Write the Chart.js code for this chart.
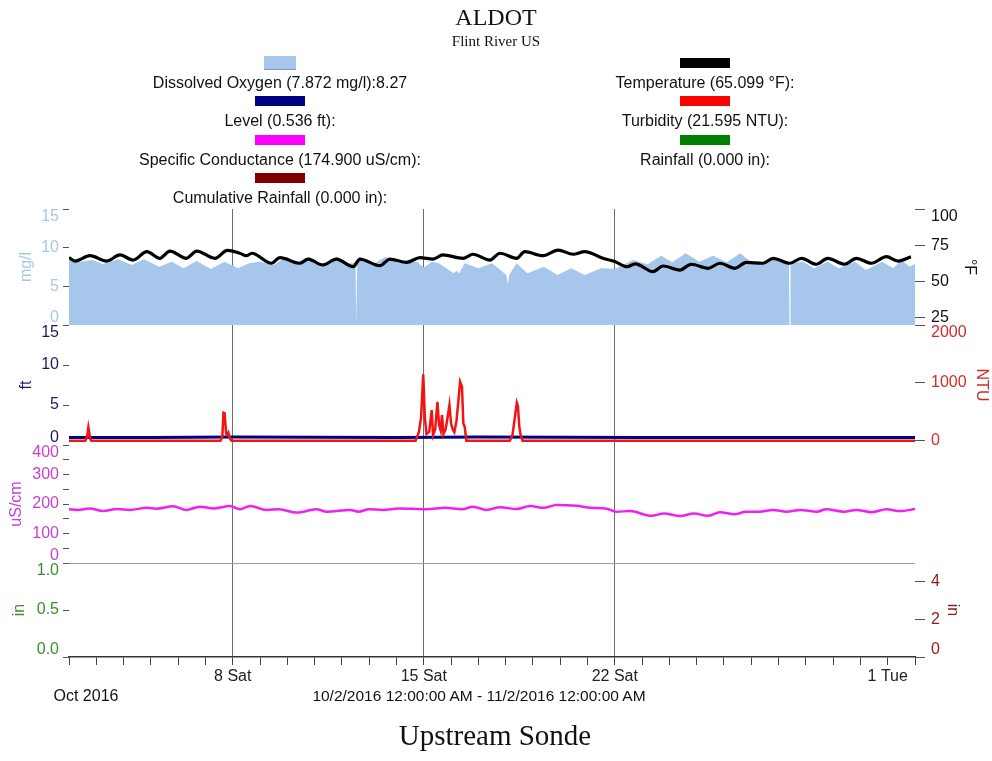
<!DOCTYPE html>
<html>
<head>
<meta charset="utf-8">
<script src="https://cdn.jsdelivr.net/npm/chart.js@4.4.0/dist/chart.umd.min.js"></script>
<style>
html,body{margin:0;padding:0;background:#fff;}
#wrap{position:relative;width:992px;height:761px;overflow:hidden;font-family:Arial,"Liberation Sans",sans-serif;}
#c{position:absolute;left:0;top:0;}
.t{position:absolute;white-space:nowrap;transform:translate(-50%,-50%);line-height:1;color:#111;}
.serif{font-family:"Times New Roman","Liberation Serif",serif;}
.sw{position:absolute;transform:translateX(-50%);}
</style>
</head>
<body>
<div id="wrap">
<canvas id="c" width="992" height="761"></canvas>
<div class="t serif" style="left:496px;top:17px;font-size:24px;">ALDOT</div>
<div class="t serif" style="left:496px;top:41px;font-size:15px;">Flint River US</div>
<div id="legend"></div>
<div class="t" style="left:86px;top:696px;font-size:16px;">Oct 2016</div>
<div class="t" style="left:479px;top:696px;font-size:15.5px;">10/2/2016 12:00:00 AM - 11/2/2016 12:00:00 AM</div>
<div class="t serif" style="left:495px;top:735px;font-size:29px;">Upstream Sonde</div>
</div>
<script>
// ---------- DATA (time in days since 10/2/2016 00:00) ----------
const X_TICK_DAYS = [6, 13, 20, 30];
const X_TICK_LABELS = ['8 Sat', '15 Sat', '22 Sat', '1 Tue'];
const WEEK_GRID_DAYS = [6, 13, 20];

const DO_DAYS = [0.0,0.35,0.85,1.25,1.8,2.3,2.75,3.3,3.77,4.2,4.68,5.2,5.7,6.2,6.6,7.0,7.5,7.9,8.4,8.8,9.3,9.8,10.2,10.5,10.52,10.54,10.56,10.65,11.1,11.6,12.1,12.75,13.0,13.3,13.55,14.1,14.2,14.3,14.5,15.0,15.5,16.03,16.08,16.13,16.4,16.8,17.4,17.9,18.4,18.9,19.5,20.0,20.3,20.67,21.2,21.7,22.1,22.6,23.1,23.6,24.1,24.6,25.0,25.5,25.9,26.38,26.4,26.42,26.44,26.9,27.3,27.8,28.2,28.8,29.2,29.8,30.2,30.5,30.8,31.0];
const DO_MGL = [8.4,8.15,8.4,7.9,8.5,7.76,8.5,7.54,8.19,7.33,8.28,7.24,8.19,7.33,8.0,8.19,7.76,8.66,7.76,8.83,7.63,8.83,7.98,7.98,0,0,8.15,8.8,7.76,8.83,7.98,8.19,7.44,8.19,7.98,6.69,7.0,6.69,7.98,7.33,7.98,6.47,5.17,6.47,7.98,6.69,7.54,6.47,7.33,6.47,7.33,7.24,7.76,8.4,7.85,8.96,8.11,9.27,8.19,8.96,8.11,9.27,8.11,8.19,8.66,7.98,0,0,7.98,8.19,7.33,8.19,7.33,8.19,7.11,8.19,7.33,8.4,7.54,7.9];

const TEMP_DAYS = [0.0,0.22,0.77,1.38,1.87,2.35,2.85,3.33,3.7,4.3,4.68,5.35,5.8,6.26,6.5,6.7,7.42,7.73,8.46,8.76,9.3,9.8,10.41,10.66,11.39,11.76,12.37,12.86,13.34,13.7,14.44,14.8,15.42,15.79,16.4,16.7,17.37,17.92,18.47,18.9,19.57,20.0,20.45,20.75,21.4,21.77,22.38,22.8,23.42,23.85,24.4,24.82,25.43,25.8,26.41,26.84,27.39,27.8,28.42,28.85,29.4,29.95,30.38,30.85];
const TEMP_F = [66.4,64.1,67.8,64.1,68.3,64.8,70.6,66.0,71.0,66.0,71.0,66.0,71.5,69.5,67.8,69.5,62.6,66.4,62.6,65.5,61.4,65.5,60.2,65.5,60.9,65.5,63.2,66.4,65.5,68.3,66.0,68.8,64.8,69.5,66.0,70.6,67.8,71.7,68.8,70.6,66.0,63.8,60.2,62.2,56.8,60.7,57.9,61.9,59.1,62.6,59.1,63.2,62.6,66.0,62.6,66.0,61.9,66.0,61.9,66.0,62.6,67.1,64.1,67.1];

const LEVEL_DAYS = [0, 3, 6, 9, 12, 15, 18, 21, 24, 27, 31];
const LEVEL_FT = [0.95, 0.95, 1.0, 0.97, 0.95, 1.0, 0.97, 0.95, 0.95, 0.95, 0.95];

const TURB_DAYS = [0,0.6,0.66,0.71,0.74,0.78,0.82,3,5.55,5.62,5.66,5.7,5.76,5.8,5.84,5.9,5.96,9,12.7,12.82,12.9,12.98,13.04,13.1,13.2,13.29,13.34,13.42,13.5,13.56,13.62,13.67,13.72,13.8,13.87,13.94,14.0,14.06,14.12,14.2,14.27,14.33,14.4,14.45,14.5,14.56,15.5,16.15,16.25,16.35,16.41,16.45,16.5,16.55,16.62,20,25,31];
const TURB_NTU = [5,5,60,235,150,30,5,5,5,80,486,480,120,100,140,40,5,5,5,150,400,1149,400,120,160,533,100,200,676,280,180,447,120,200,400,619,300,200,150,350,700,1021,935,300,247,5,5,5,100,450,659,600,250,100,5,5,5,5];

const COND_DAYS = [0,0.3,0.77,1.25,1.75,2.23,2.85,3.2,3.82,4.3,4.8,5.3,5.9,6.26,6.63,7.24,7.7,8.34,9.07,9.44,10.3,10.6,11.0,11.5,12.1,13.1,13.8,14.4,14.8,15.3,15.8,16.4,16.9,17.4,17.86,18.6,19.1,19.7,20.05,20.55,21.34,21.8,22.4,22.9,23.4,23.85,24.4,24.8,25.3,25.8,26.3,26.8,27.4,27.75,28.4,28.85,29.4,29.95,30.45,31];
const COND_USCM = [182,180,185,176,183,180,187,184,192,180,191,185,193,182,193,180,182,171,182,174,180,174,182,180,185,182,187,182,191,180,189,183,193,187,197,194,187,184,174,176,160,168,159,168,160,172,165,174,174,180,174,180,174,182,174,180,172,182,176,183];

const RAIN_DAYS = [0,1,2,3,4,5,6,7,8,9,10,11,12,13,14,15,16,17,18,19,20,21,22,23,24,25,26,27,28,29,30,31];
const RAIN_IN = [0,0,0,0,0,0,0,0,0,0,0,0,0,0,0,0,0,0,0,0,0,0,0,0,0,0,0,0,0,0,0,0];
const CUM_RAIN_IN = [0,0,0,0,0,0,0,0,0,0,0,0,0,0,0,0,0,0,0,0,0,0,0,0,0,0,0,0,0,0,0,0];

const DO_TICKS = [0, 5, 10, 15];           const DO_TICK_LABELS = ['0','5','10','15'];
const TEMP_TICKS = [25, 50, 75, 100];      const TEMP_TICK_LABELS = ['25','50','75','100'];
const LEVEL_TICKS = [0, 5, 10, 15];        const LEVEL_TICK_LABELS = ['0','5','10','15'];
const TURB_TICKS = [0, 1000, 2000];        const TURB_TICK_LABELS = ['0','1000','2000'];
const COND_TICKS = [0,50,100,150,200,250,300,350,400];
const COND_TICK_LABELS = ['0','','100','','200','','300','','400'];
const RAIN_TICKS = [0, 0.5, 1];            const RAIN_TICK_LABELS = ['0.0','0.5','1.0'];
const CUM_TICKS = [0, 2, 4];               const CUM_TICK_LABELS = ['0','2','4'];

const LEGEND_LEFT = ['Dissolved Oxygen (7.872 mg/l):8.27','Level (0.536 ft):','Specific Conductance (174.900 uS/cm):','Cumulative Rainfall (0.000 in):'];
const LEGEND_RIGHT = ['Temperature (65.099 °F):','Turbidity (21.595 NTU):','Rainfall (0.000 in):'];

// ---------- STYLE ----------
const C_DO = '#a6c6eb', C_TEMP = '#000000', C_LEVEL = '#000080', C_TURB = '#f01414',
      C_COND = '#f020f0', C_RAIN = '#008000', C_CUM = '#800000';
const FONT = 'Arial, "Liberation Sans", sans-serif';

// ---------- LEGEND (HTML) ----------
(function(){
  const lg = document.getElementById('legend');
  const leftColors = [C_DO, C_LEVEL, '#ff00ff', C_CUM];
  const rightColors = [C_TEMP, '#ff0000', C_RAIN];
  function col(names, colors, cx, isLeft){
    names.forEach((n, i) => {
      const top = 57 + i * 38.3;
      const sw = document.createElement('div');
      sw.className = 'sw';
      const area = isLeft && i === 0;
      sw.style.cssText = `left:${cx}px;top:${area ? top - 1 : top + 1}px;width:${area ? 32 : 50}px;height:${area ? 13 : 10}px;background:${colors[i]};` + (area ? 'border-bottom:1px solid #7b9cc2;' : '');
      lg.appendChild(sw);
      const tx = document.createElement('div');
      tx.className = 't';
      tx.style.cssText = `left:${cx}px;top:${top + 26}px;font-size:16px;`;
      tx.textContent = n;
      lg.appendChild(tx);
    });
  }
  col(LEGEND_LEFT, leftColors, 280, true);
  col(LEGEND_RIGHT, rightColors, 705, false);
})();

// ---------- CHART ----------
function pts(xs, ys){ return xs.map((x, i) => ({x: x, y: ys[i]})); }

// panel index 0 = top ... 3 = bottom
function yScale(o){
  const left = o.pos === 'left';
  return {
    type: 'linear', position: o.pos, stack: left ? 'L' : 'R', stackWeight: o.weight,
    // left boxes are sorted by descending weight, right ones by ascending weight
    weight: left ? (10 - o.panel) : o.panel,
    min: o.min, max: o.max, display: true,
    afterBuildTicks: s => { s.ticks = o.ticks.map(v => ({value: v})); },
    afterFit: s => { s.width = left ? 69 : 77; },
    grid: {
      drawOnChartArea: !!o.sepAtMax,
      color: ctx => (o.sepAtMax && ctx.tick && ctx.tick.value === o.max) ? '#a0a0a0' : 'rgba(0,0,0,0)',
      tickColor: '#555', tickLength: left ? 6 : 10, lineWidth: 1
    },
    border: {display: false},
    ticks: {
      color: o.color, padding: left ? 4 : 6, autoSkip: false,
      font: {family: FONT, size: 16, lineHeight: 0.9},
      callback: function(v){
        const idx = o.ticks.indexOf(v);
        const lbl = idx >= 0 ? o.labels[idx] : '';
        if (lbl === '') return '';
        if (v === o.max) return ['', lbl];
        if (v === o.min) return [lbl, ''];
        return lbl;
      }
    },
    title: {display: true, text: o.title, color: o.color, font: {family: FONT, size: 16}, padding: {top: o.tpad, bottom: 0}}
  };
}

const chart = new Chart(document.getElementById('c'), {
  type: 'line',
  data: {
    datasets: [
      {label: 'Temperature', data: pts(TEMP_DAYS, TEMP_F), yAxisID: 'yT', borderColor: C_TEMP, borderWidth: 3.2, pointRadius: 0, cubicInterpolationMode: 'monotone', order: 2},
      {label: 'Dissolved Oxygen', data: pts(DO_DAYS, DO_MGL), yAxisID: 'yDO', borderColor: C_DO, backgroundColor: C_DO, borderWidth: 0, pointRadius: 0, fill: 'start', order: 10},
      {label: 'Turbidity', data: pts(TURB_DAYS, TURB_NTU), yAxisID: 'yN', borderColor: C_TURB, borderWidth: 2.5, pointRadius: 0, order: 1},
      {label: 'Level', data: pts(LEVEL_DAYS, LEVEL_FT), yAxisID: 'yL', borderColor: C_LEVEL, borderWidth: 3, pointRadius: 0, order: 3},
      {label: 'Specific Conductance', data: pts(COND_DAYS, COND_USCM), yAxisID: 'yC', borderColor: C_COND, borderWidth: 2.5, pointRadius: 0, cubicInterpolationMode: 'monotone', order: 4},
      {type: 'bar', label: 'Rainfall', data: pts(RAIN_DAYS, RAIN_IN), yAxisID: 'yR', backgroundColor: C_RAIN, borderWidth: 0, barThickness: 4, order: 6},
      {label: 'Cumulative Rainfall', data: pts(RAIN_DAYS, CUM_RAIN_IN), yAxisID: 'yCum', borderColor: C_CUM, borderWidth: 1, pointRadius: 0, order: 5}
    ]
  },
  options: {
    responsive: false, animation: false, devicePixelRatio: 1,
    layout: {padding: {top: 209, left: 0, right: 0, bottom: 0}},
    plugins: {legend: {display: false}, tooltip: {enabled: false}},
    events: [],
    scales: {
      x: {
        type: 'linear', position: 'bottom', min: 0, max: 31, offset: false, z: 1,
        afterFit: s => { s.height = 104; },
        ticks: {
          stepSize: 1, autoSkip: false, maxRotation: 0, minRotation: 0, color: '#222', padding: 2,
          font: {family: FONT, size: 16},
          callback: v => { const i = X_TICK_DAYS.indexOf(v); return i >= 0 ? X_TICK_LABELS[i] : ''; }
        },
        grid: {
          offset: false,
          color: ctx => (ctx.tick && WEEK_GRID_DAYS.includes(ctx.tick.value)) ? '#6e6e6e' : 'rgba(0,0,0,0)',
          tickColor: '#444', tickLength: 8, lineWidth: 1
        },
        border: {display: true, color: '#333', width: 1.5, z: 2}
      },
      yDO:  yScale({panel: 0, pos: 'left',  weight: 116, min: 0,   max: 15,   ticks: DO_TICKS,    labels: DO_TICK_LABELS,    color: '#a9c6e6', title: 'mg/l',  tpad: 17}),
      yT:   yScale({panel: 0, pos: 'right', weight: 116, min: 20,  max: 100,  ticks: TEMP_TICKS,  labels: TEMP_TICK_LABELS,  color: '#111111', title: '°F',    tpad: 13}),
      yL:   yScale({panel: 1, pos: 'left',  weight: 120, min: 0,   max: 15,   ticks: LEVEL_TICKS, labels: LEVEL_TICK_LABELS, color: '#1a1a66', title: 'ft',    tpad: 17}),
      yN:   yScale({panel: 1, pos: 'right', weight: 120, min: -70, max: 2000, ticks: TURB_TICKS,  labels: TURB_TICK_LABELS,  color: '#d42a2a', title: 'NTU',   tpad: 1}),
      yC:   yScale({panel: 2, pos: 'left',  weight: 118, min: 0,   max: 400,  ticks: COND_TICKS,  labels: COND_TICK_LABELS,  color: '#cc3fcc', title: 'uS/cm', tpad: 7}),
      yPad: {type: 'linear', position: 'right', stack: 'R', stackWeight: 118, weight: 2, display: true,
             afterFit: s => { s.width = 77; }, ticks: {display: false}, grid: {display: false}, border: {display: false}},
      yR:   yScale({panel: 3, pos: 'left',  weight: 94,  min: 0,   max: 1,    ticks: RAIN_TICKS,  labels: RAIN_TICK_LABELS,  color: '#3a8f2a', title: 'in',    tpad: 10, sepAtMax: true}),
      yCum: yScale({panel: 3, pos: 'right', weight: 94,  min: 0,   max: 5,    ticks: CUM_TICKS,   labels: CUM_TICK_LABELS,   color: '#8b1c1c', title: 'in',    tpad: 30})
    }
  }
});
</script>
</body>
</html>
